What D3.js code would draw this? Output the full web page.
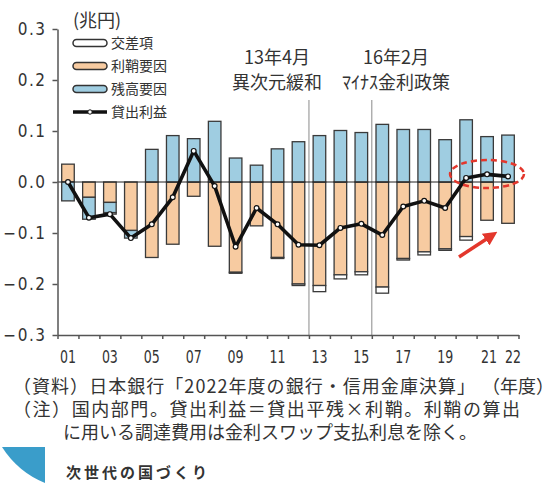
<!DOCTYPE html>
<html lang="ja">
<head>
<meta charset="UTF-8">
<script src="https://d3js.org/d3.v7.min.js"></script>
<style>
  body { margin: 0; background: #fff; }
  text { font-family: "Noto Sans CJK JP", "Noto Sans", sans-serif; fill: #333; }
  .num { font-family: "DejaVu Sans", "Liberation Sans", sans-serif; font-stretch: condensed; }
</style>
<title>貸出利益の要因分解</title>
</head>
<body>
<script>
// fiscal years (2001-2022)
const years = ['01','02','03','04','05','06','07','08','09','10','11',
               '12','13','14','15','16','17','18','19','20','21','22'];
const labelYears = ['01','03','05','07','09','11','13','15','17','19','21','22'];

// 利鞘要因 (spread factor), 兆円
const spread = [0.035, -0.030, -0.040, -0.095, -0.148, -0.122, -0.028, -0.126, -0.177, -0.086, -0.148,
                -0.200, -0.203, -0.182, -0.176, -0.206, -0.150, -0.137, -0.131, -0.107, -0.075, -0.081];
// 残高要因 (volume factor)
const volume = [-0.037, -0.043, -0.020, -0.015, 0.064, 0.091, 0.085, 0.119, 0.047, 0.033, 0.065,
                0.079, 0.091, 0.101, 0.097, 0.113, 0.103, 0.103, 0.083, 0.122, 0.089, 0.092];
// 交差項 (cross term)
const cross = [0.000, 0.000, -0.003, 0.000, 0.000, 0.000, 0.000, 0.000, -0.002, 0.000, -0.002,
               -0.003, -0.012, -0.008, -0.006, -0.012, -0.003, -0.006, -0.003, -0.007, 0.000, 0.000];
// 貸出利益 (lending profit)
const profit = [0.000, -0.070, -0.063, -0.110, -0.083, -0.030, 0.061, -0.008, -0.127, -0.051, -0.083,
                -0.123, -0.124, -0.090, -0.082, -0.104, -0.048, -0.037, -0.051, 0.008, 0.015, 0.011];

const yTicks = [0.3, 0.2, 0.1, 0.0, -0.1, -0.2, -0.3];

const W = 556, H = 483;
const svg = d3.select('body').append('svg')
    .attr('width', W)
    .attr('height', H);

const plotLeft = 57.5, plotRight = 518.5, plotTop = 29, plotBottom = 335;

const x = d3.scaleBand()
    .domain(years)
    .range([plotLeft, plotRight])
    .paddingInner(0.4)
    .paddingOuter(0.2);

const xEdge = d3.scaleLinear()
    .domain([0, years.length])
    .range([plotLeft, plotRight]);

const y = d3.scaleLinear()
    .domain([-0.3, 0.3])
    .range([plotBottom, plotTop]);

const colors = { spread: '#f7cba1', volume: '#9fcde1', cross: '#ffffff' };

// rows for stacking
const rows = years.map((yr, i) => ({ year: yr, spread: spread[i], volume: volume[i], cross: cross[i] }));
const stacked = d3.stack()
    .keys(['spread', 'volume', 'cross'])
    .offset(d3.stackOffsetDiverging)(rows);

// event lines (between 12/13 and 15/16)
[12, 15].forEach(i => {
    svg.append('line')
        .attr('x1', xEdge(i)).attr('x2', xEdge(i))
        .attr('y1', 100).attr('y2', plotBottom)
        .attr('stroke', '#8a8a8a')
        .attr('stroke-width', 1);
});

// bars
svg.append('g')
    .selectAll('g')
    .data(stacked)
    .enter()
    .append('g')
    .attr('fill', d => colors[d.key])
    .selectAll('rect')
    .data(d => d.filter(s => s[1] - s[0] !== 0))
    .enter()
    .append('rect')
    .attr('x', d => x(d.data.year))
    .attr('y', d => y(d[1]))
    .attr('width', x.bandwidth())
    .attr('height', d => y(d[0]) - y(d[1]))
    .attr('stroke', '#3a3a3a')
    .attr('stroke-width', 1.3);

// zero line
svg.append('line')
    .attr('x1', plotLeft).attr('x2', plotRight)
    .attr('y1', y(0)).attr('y2', y(0))
    .attr('stroke', '#222')
    .attr('stroke-width', 1);

// y axis
const yAxis = svg.append('g')
    .attr('transform', `translate(${plotLeft}, 0)`)
    .call(d3.axisLeft(y).tickValues(yTicks).tickSize(5).tickSizeOuter(0).tickFormat(d3.format('.1f')));
yAxis.select('.domain').attr('stroke', '#555').attr('stroke-width', 1.5);
yAxis.selectAll('.tick line').attr('stroke', '#555').attr('stroke-width', 1.5);
yAxis.selectAll('.tick text')
    .attr('class', 'num')
    .attr('x', -11)
    .attr('font-size', '17px')
    .attr('letter-spacing', '1.5px')
    .attr('fill', '#333');

// x axis: ticks on year boundaries
const xAxis = svg.append('g')
    .attr('transform', `translate(0, ${plotBottom})`)
    .call(d3.axisBottom(xEdge).tickValues(d3.range(0, years.length + 1)).tickSize(4).tickSizeOuter(0).tickFormat(''));
xAxis.select('.domain').attr('stroke', '#555').attr('stroke-width', 1.5);
xAxis.selectAll('.tick line').attr('stroke', '#555').attr('stroke-width', 1.5);

const labelShift = { '21': 2, '22': 5 };
svg.append('g')
    .selectAll('text')
    .data(labelYears)
    .enter()
    .append('text')
    .attr('class', 'num')
    .attr('x', d => x(d) + x.bandwidth() / 2 + (labelShift[d] || 0))
    .attr('y', 363)
    .attr('text-anchor', 'middle')
    .attr('font-size', '17px')
    .attr('textLength', 16)
    .attr('lengthAdjust', 'spacingAndGlyphs')
    .text(d => d);

// lending profit line
const line = d3.line()
    .x((d, i) => x(years[i]) + x.bandwidth() / 2)
    .y(d => y(d));

svg.append('path')
    .datum(profit)
    .attr('d', line)
    .attr('fill', 'none')
    .attr('stroke', '#111')
    .attr('stroke-width', 3.6)
    .attr('stroke-linejoin', 'round');

svg.append('g')
    .selectAll('circle')
    .data(profit)
    .enter()
    .append('circle')
    .attr('cx', (d, i) => x(years[i]) + x.bandwidth() / 2)
    .attr('cy', d => y(d))
    .attr('r', 2.4)
    .attr('fill', '#fff')
    .attr('stroke', '#111')
    .attr('stroke-width', 1.2);

// unit
svg.append('text')
    .attr('x', 73)
    .attr('y', 27)
    .attr('font-size', '18px')
    .text('(兆円)');

// legend
const legendItems = [
    { name: '交差項', fill: colors.cross },
    { name: '利鞘要因', fill: colors.spread },
    { name: '残高要因', fill: colors.volume },
    { name: '貸出利益', fill: null }
];
const legend = svg.append('g')
    .selectAll('g')
    .data(legendItems)
    .enter()
    .append('g')
    .attr('transform', (d, i) => `translate(73, ${43 + i * 23})`);

legend.filter(d => d.fill)
    .append('rect')
    .attr('x', 0).attr('y', -3.5)
    .attr('width', 34).attr('height', 7)
    .attr('rx', 3.5)
    .attr('fill', d => d.fill)
    .attr('stroke', '#333')
    .attr('stroke-width', 1.5);

const lineKey = legend.filter(d => !d.fill);
lineKey.append('line')
    .attr('x1', 0).attr('x2', 34)
    .attr('stroke', '#111')
    .attr('stroke-width', 3.6);
lineKey.append('circle')
    .attr('cx', 17).attr('r', 2.2)
    .attr('fill', '#fff').attr('stroke', '#111').attr('stroke-width', 1);

legend.append('text')
    .attr('x', 38)
    .attr('y', 5)
    .attr('font-size', '14px')
    .text(d => d.name);

// event annotations
const notes = [
    { cx: 277, l1: '13年4月', l2: '異次元緩和' },
    { cx: 396, l1: '16年2月', l2: 'ﾏｲﾅｽ金利政策' }
];
notes.forEach(n => {
    svg.append('text').attr('x', n.cx).attr('y', 64)
        .attr('text-anchor', 'middle').attr('font-size', '18px').text(n.l1);
    svg.append('text').attr('x', n.cx).attr('y', 89)
        .attr('text-anchor', 'middle').attr('font-size', '18px').text(n.l2);
});

// red highlight around 20-22
const red = '#e3372c';
svg.append('ellipse')
    .attr('cx', 487).attr('cy', 174)
    .attr('rx', 37).attr('ry', 14)
    .attr('fill', 'none')
    .attr('stroke', red)
    .attr('stroke-width', 2.5)
    .attr('stroke-dasharray', '6,4');

svg.append('defs').append('marker')
    .attr('id', 'head')
    .attr('viewBox', '0 0 10 10')
    .attr('refX', 2).attr('refY', 5)
    .attr('markerWidth', 4).attr('markerHeight', 4)
    .attr('orient', 'auto')
    .append('path')
    .attr('d', 'M0,0 L10,5 L0,10 Z')
    .attr('fill', red);

svg.append('line')
    .attr('x1', 459).attr('y1', 257)
    .attr('x2', 488).attr('y2', 238)
    .attr('stroke', red)
    .attr('stroke-width', 3.5)
    .attr('marker-end', 'url(#head)');

// source and notes
const noteRows = [
    { x: 13, y: 393, len: 462, text: '（資料）日本銀行「2022年度の銀行・信用金庫決算」' },
    { x: 13, y: 416, len: 507, text: '（注）国内部門。貸出利益＝貸出平残×利鞘。利鞘の算出' },
    { x: 63, y: 439, len: 414, text: 'に用いる調達費用は金利スワップ支払利息を除く。' }
];
svg.append('g')
    .selectAll('text')
    .data(noteRows)
    .enter()
    .append('text')
    .attr('x', d => d.x)
    .attr('y', d => d.y)
    .attr('font-size', '18px')
    .attr('textLength', d => d.len)
    .attr('lengthAdjust', 'spacing')
    .text(d => d.text);

svg.append('text')
    .attr('x', 554).attr('y', 393)
    .attr('font-size', '18px')
    .attr('text-anchor', 'end')
    .text('（年度）');

// page footer
svg.append('path')
    .attr('d', 'M2,447 L45,447 L45,483 Q18,472 2,447 Z')
    .attr('fill', '#3a9dca');
svg.append('text').attr('x', 66).attr('y', 478)
    .attr('font-size', '15px').attr('font-weight', 'bold')
    .attr('letter-spacing', '3px').attr('fill', '#222')
    .text('次世代の国づくり');
</script>
</body>
</html>
